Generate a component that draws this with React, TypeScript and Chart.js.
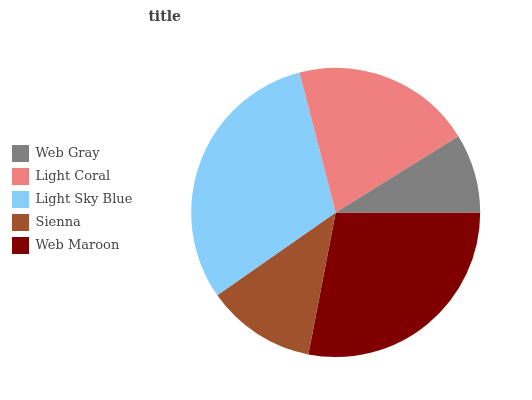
import React, { useEffect, useRef } from "react";
import { Chart, registerables } from "chart.js";

Chart.register(...registerables);

const categories = ["Web Gray", "Light Coral", "Light Sky Blue", "Sienna", "Web Maroon"];
const values = [8.86, 20.17, 30.69, 12.25, 28.03];
const colors = ["#808080", "#F08080", "#87CEFA", "#A0522D", "#800000"];
const titleText = "title";

const titleShift = {
  id: "titleShift",
  afterLayout(chart: any) {
    const t = chart.titleBlock;
    if (t) {
      t.left += 6;
      t.right += 6;
    }
  },
};

export default function App() {
  const ref = useRef<HTMLCanvasElement | null>(null);
  useEffect(() => {
    if (!ref.current) return;
    // reverse order so slices run counter-clockwise from 3 o'clock
    const labels = [...categories].reverse();
    const data = [...values].reverse();
    const bg = [...colors].reverse();
    const chart = new Chart(ref.current, {
      type: "pie",
      data: {
        labels,
        datasets: [
          {
            data,
            backgroundColor: bg,
            borderWidth: 0,
            radius: 144.5,
          },
        ],
      },
      options: {
        animation: false,
        responsive: true,
        maintainAspectRatio: false,
        rotation: 90,
        layout: { padding: { left: 6, top: 0, right: 3, bottom: 1 } },
        plugins: {
          tooltip: { enabled: false },
          title: {
            display: true,
            text: titleText,
            align: "start",
            fullSize: false,
            color: "#444",
            font: { family: "DejaVu Serif", size: 14, weight: "bold" },
            padding: { top: 9, bottom: 0.2 },
          },
          legend: {
            position: "left",
            reverse: true,
            labels: {
              boxWidth: 17,
              boxHeight: 17,
              padding: 6,
              color: "#444",
              font: { family: "DejaVu Serif", size: 13 },
            },
          },
        },
      },
      plugins: [titleShift],
    });
    return () => chart.destroy();
  }, []);
  return (
    <div style={{ position: "fixed", left: 0, top: 0, width: 532, height: 400, background: "#fff" }}>
      <canvas ref={ref} />
    </div>
  );
}
